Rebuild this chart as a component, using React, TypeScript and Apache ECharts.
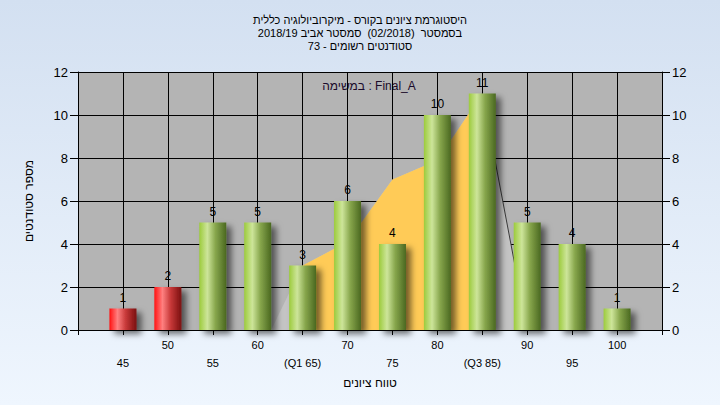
import React, { useEffect, useRef } from "react";
import * as echarts from "echarts";

const titleLines = [
  "היסטוגרמת ציונים בקורס - מיקרוביולוגיה כללית",
  "בסמסטר  (02/2018)  סמסטר אביב 2018/19",
  "סטודנטים רשומים - 73",
];
const annotation = "במשימה : Final_A";
const xTitle = "טווח ציונים";
const yTitle = "מספר סטודנטים";

const categories = [45, 50, 55, 60, 65, 70, 75, 80, 85, 90, 95, 100];
const tickLabels = ["45", "50", "55", "60", "(Q1 65)", "70", "75", "80", "(Q3 85)", "90", "95", "100"];
const counts = [1, 2, 5, 5, 3, 6, 4, 10, 11, 5, 4, 1];
const failBelow = 55;

// distribution polygon (light gray) and its inter-quartile part (yellow)
const curveX = [61.5, 65, 70, 75, 80, 85, 90];
const curveY = [0, 3, 4.1, 7, 7.9, 11, 0];
const iqrX = [65, 70, 75, 80, 85];
const iqrY = [3, 4.1, 7, 7.9, 11];

const FONT = "'Liberation Sans', Arial, sans-serif";

export default function App() {
  const ref = useRef<HTMLDivElement>(null);
  useEffect(() => {
    if (!ref.current) return;
    const chart = echarts.init(ref.current, undefined, { renderer: "svg" });
    const green = new echarts.graphic.LinearGradient(0, 0, 1, 0, [
      { offset: 0, color: "#9ccb3c" },
      { offset: 0.3, color: "#cde59a" },
      { offset: 0.6, color: "#87a64c" },
      { offset: 1, color: "#4a6820" },
    ]);
    const red = new echarts.graphic.LinearGradient(0, 0, 1, 0, [
      { offset: 0, color: "#ff1010" },
      { offset: 0.3, color: "#ff8080" },
      { offset: 0.6, color: "#c83a3a" },
      { offset: 1, color: "#7a0f0f" },
    ]);
    const n = curveX.length;
    const option: any = {
      animation: false,
      backgroundColor: new echarts.graphic.LinearGradient(0, 0, 0, 1, [
        { offset: 0, color: "#d3e0f1" },
        { offset: 1, color: "#eff6fe" },
      ]),
      textStyle: { fontFamily: FONT },
      title: {
        text: titleLines.join("\n"),
        left: "center",
        top: 8,
        textStyle: { fontSize: 11, fontWeight: "normal", color: "#000", lineHeight: 13, fontFamily: FONT },
      },
      graphic: [
        {
          type: "text",
          x: 369,
          y: 86,
          style: {
            text: annotation,
            fill: "#1a0a2a",
            font: `12px ${FONT}`,
            textAlign: "center",
            textVerticalAlign: "middle",
          },
        },
      ],
      grid: { left: 78, right: 58, top: 72, bottom: 75, show: true, backgroundColor: "#b4b4b4", borderWidth: 0 },
      xAxis: {
        type: "value",
        min: 40,
        max: 105,
        interval: 5,
        axisLine: { show: true, onZero: false, lineStyle: { color: "#000", width: 1 } },
        axisTick: { show: true, length: 5, lineStyle: { color: "#000" } },
        splitLine: { show: true, lineStyle: { color: "#000", width: 1 } },
        axisLabel: {
          color: "#000",
          fontSize: 11,
          margin: 6,
          lineHeight: 18,
          fontFamily: FONT,
          formatter: (v: number) => {
            const i = categories.indexOf(v);
            if (i < 0) return "";
            return i % 2 === 0 ? "\n" + tickLabels[i] : tickLabels[i];
          },
        },
        name: xTitle,
        nameLocation: "middle",
        nameGap: 46,
        nameTextStyle: { color: "#000", fontSize: 12, fontFamily: FONT },
      },
      yAxis: [
        {
          type: "value",
          min: 0,
          max: 12,
          interval: 2,
          position: "left",
          axisLine: { show: true, lineStyle: { color: "#000" } },
          axisTick: { show: true, length: 8, lineStyle: { color: "#000" } },
          splitLine: { show: true, lineStyle: { color: "#000", width: 1 } },
          axisLabel: { color: "#000", fontSize: 13, margin: 10, fontFamily: FONT },
          name: yTitle,
          nameLocation: "middle",
          nameGap: 43,
          nameRotate: 90,
          nameTextStyle: { color: "#000", fontSize: 12, fontFamily: FONT },
        },
        {
          type: "value",
          min: 0,
          max: 12,
          interval: 2,
          position: "right",
          axisLine: { show: true, lineStyle: { color: "#000" } },
          axisTick: { show: true, length: 8, lineStyle: { color: "#000" } },
          splitLine: { show: false },
          axisLabel: { color: "#000", fontSize: 13, margin: 10, fontFamily: FONT },
        },
      ],
      series: [
        {
          type: "line",
          data: curveX.map((x, i) => [x, curveY[i]]),
          symbol: "none",
          lineStyle: { width: 0 },
          areaStyle: { color: "#c4c4c4", opacity: 1 },
          silent: true,
          z: 1,
        },
        {
          type: "line",
          data: iqrX.map((x, i) => [x, iqrY[i]]),
          symbol: "none",
          lineStyle: { width: 0 },
          areaStyle: { color: "#ffcb57", opacity: 1 },
          silent: true,
          z: 2,
        },
        {
          type: "line",
          data: [
            [curveX[n - 2], curveY[n - 2]],
            [curveX[n - 1], curveY[n - 1]],
          ],
          symbol: "none",
          lineStyle: { width: 1, color: "#3a3a3a" },
          silent: true,
          z: 3,
        },
        {
          type: "bar",
          barWidth: 27,
          z: 4,
          data: categories.map((c, i) => ({
            value: [c, counts[i]],
            itemStyle: { color: c < failBelow ? red : green },
          })),
          itemStyle: {
            shadowColor: "rgba(0,0,0,0.55)",
            shadowBlur: 6,
            shadowOffsetX: 5,
            shadowOffsetY: 4,
          },
          label: {
            show: true,
            position: "top",
            distance: 5,
            color: "#000",
            fontSize: 12,
            fontFamily: FONT,
            formatter: (p: any) => String(p.value[1]),
          },
        },
      ],
    };
    chart.setOption(option);
    return () => chart.dispose();
  }, []);
  return <div ref={ref} style={{ position: "fixed", left: 0, top: 0, width: 720, height: 405 }} />;
}
